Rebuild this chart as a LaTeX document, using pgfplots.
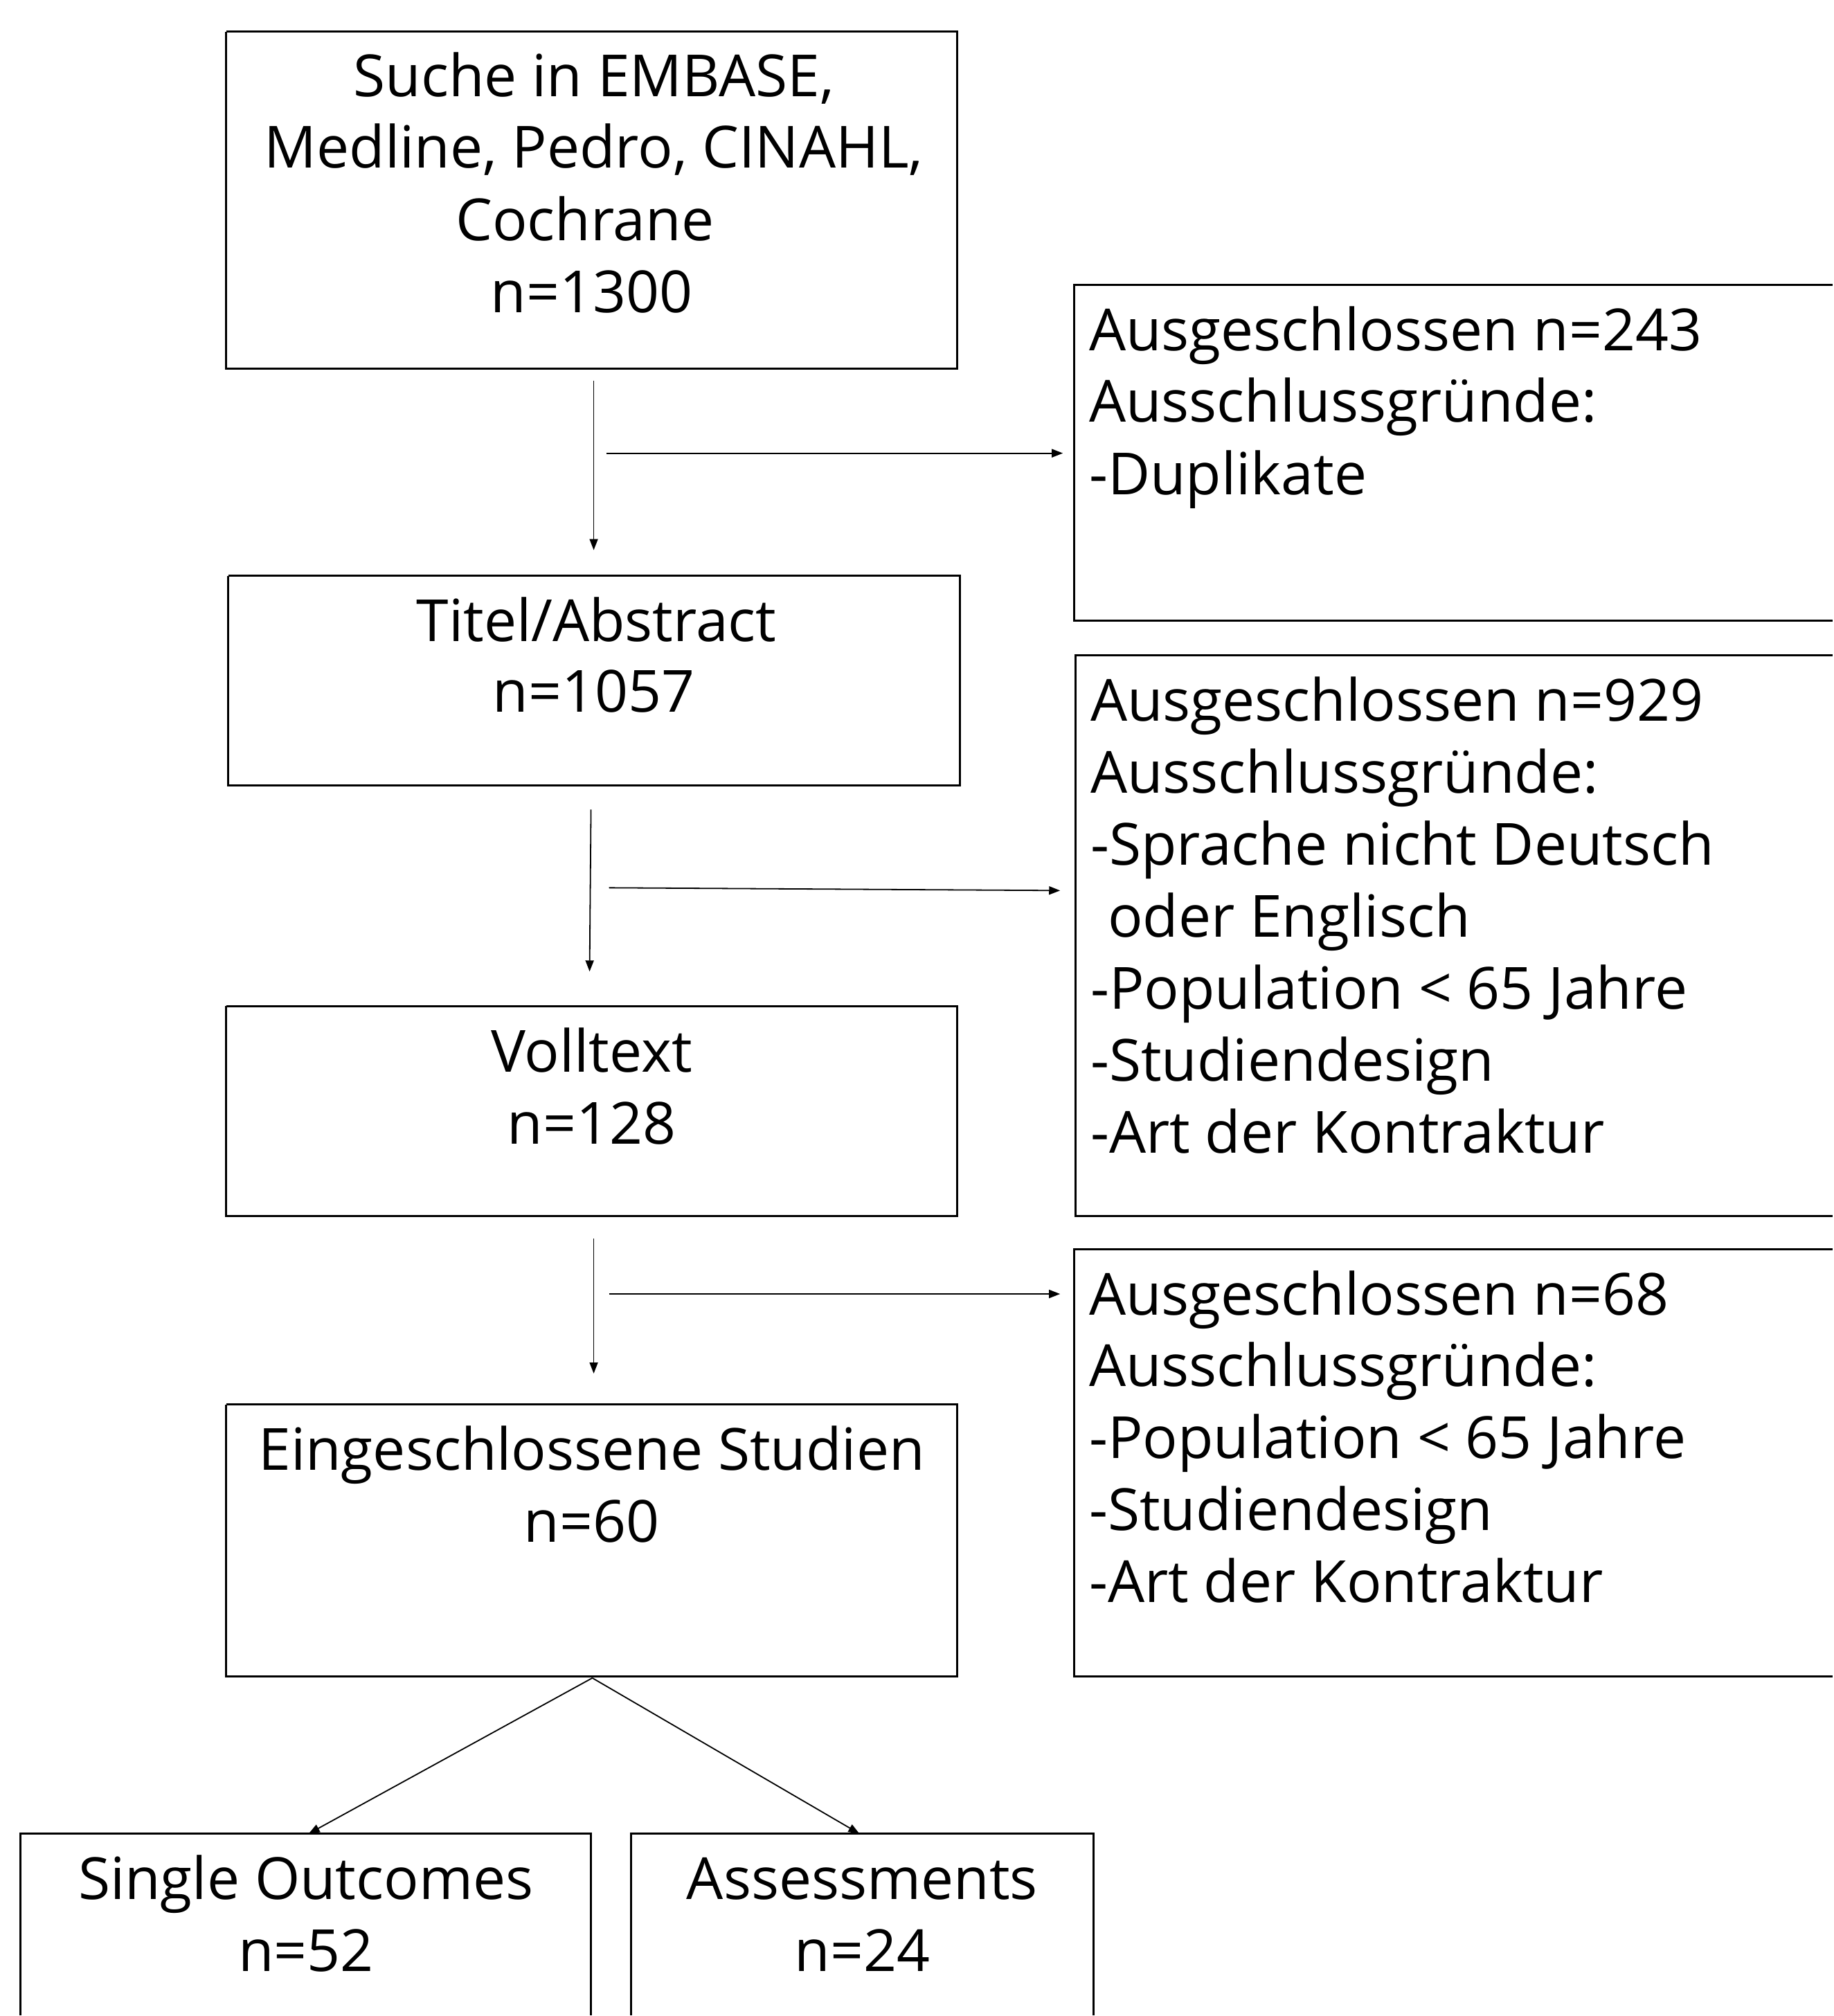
\documentclass[border=0pt]{standalone}
\usepackage{pgfplots}
\pgfplotsset{compat=1.18}
\usepackage{fontspec}
\setmainfont{Open Sans}
\usetikzlibrary{arrows.meta}
\tikzset{bx/.style={line width=0.75pt, black},
         ar/.style={line width=0.45pt, black, -{Triangle[length=4pt,width=3pt]}},
         t/.style={font=\fontsize{21}{25}\selectfont, inner sep=0pt, anchor=base},
         l/.style={font=\fontsize{21}{25}\selectfont, inner sep=0pt, anchor=base west}}
\begin{document}
\begin{tikzpicture}
\begin{axis}[
  scale only axis, width=662pt, height=728pt,
  xmin=0, xmax=2648, ymin=0, ymax=2912, y dir=reverse,
  hide axis, clip=false,
]
\addplot[draw=none] coordinates {(0,0) (2648,2912)};
% boxes
\addplot[bx] coordinates {(327,46) (1383,46) (1383,533) (327,533) (327,46)};
\addplot[bx] coordinates {(2648,412) (1552,412) (1552,897) (2648,897)};
\addplot[bx] coordinates {(330,832) (1387,832) (1387,1135) (330,1135) (330,832)};
\addplot[bx] coordinates {(2648,947) (1554,947) (1554,1757) (2648,1757)};
\addplot[bx] coordinates {(327,1454) (1383,1454) (1383,1757) (327,1757) (327,1454)};
\addplot[bx] coordinates {(2648,1805) (1552,1805) (1552,2423) (2648,2423)};
\addplot[bx] coordinates {(327,2030) (1383,2030) (1383,2423) (327,2423) (327,2030)};
\addplot[bx] coordinates {(30,2912) (30,2650) (854,2650) (854,2912)};
\addplot[bx] coordinates {(912,2912) (912,2650) (1580,2650) (1580,2912)};
% arrows
\addplot[ar] coordinates {(858,550) (858,795)};
\addplot[ar] coordinates {(876,655) (1536,655)};
\addplot[ar] coordinates {(854,1170) (852,1404)};
\addplot[ar] coordinates {(880,1283) (1532,1287)};
\addplot[ar] coordinates {(858,1790) (858,1985)};
\addplot[ar] coordinates {(880,1870) (1532,1870)};
\addplot[ar] coordinates {(856,2425) (446,2650)};
\addplot[ar] coordinates {(856,2425) (1242,2650)};
% box 1
\node[t] at (axis cs:858,140) {Suche in EMBASE,};
\node[t] at (axis cs:858,243) {Medline, Pedro, CINAHL,};
\node[t] at (axis cs:845,348) {Cochrane};
\node[t] at (axis cs:855,452) {n=1300};
% right 1
\node[l] at (axis cs:1573,507) {Ausgeschlossen n=243};
\node[l] at (axis cs:1573,610) {Ausschlussgründe:};
\node[l] at (axis cs:1573,715) {-Duplikate};
% box 2
\node[t] at (axis cs:862,927) {Titel/Abstract};
\node[t] at (axis cs:858,1029) {n=1057};
% right 2
\node[l] at (axis cs:1575,1042) {Ausgeschlossen n=929};
\node[l] at (axis cs:1575,1146) {Ausschlussgründe:};
\node[l] at (axis cs:1575,1250) {-Sprache nicht Deutsch};
\node[l] at (axis cs:1600,1354) {oder Englisch};
\node[l] at (axis cs:1575,1458) {-Population < 65 Jahre};
\node[l] at (axis cs:1575,1562) {-Studiendesign};
\node[l] at (axis cs:1575,1666) {-Art der Kontraktur};
% box 3
\node[t] at (axis cs:855,1549) {Volltext};
\node[t] at (axis cs:855,1653) {n=128};
% right 3
\node[l] at (axis cs:1573,1900) {Ausgeschlossen n=68};
\node[l] at (axis cs:1573,2004) {Ausschlussgründe:};
\node[l] at (axis cs:1573,2108) {-Population < 65 Jahre};
\node[l] at (axis cs:1573,2212) {-Studiendesign};
\node[l] at (axis cs:1573,2316) {-Art der Kontraktur};
% box 4
\node[t] at (axis cs:855,2125) {Eingeschlossene Studien};
\node[t] at (axis cs:855,2229) {n=60};
% box 5, 6
\node[t] at (axis cs:442,2745) {Single Outcomes};
\node[t] at (axis cs:442,2849) {n=52};
\node[t] at (axis cs:1246,2745) {Assessments};
\node[t] at (axis cs:1246,2849) {n=24};
\end{axis}
\end{tikzpicture}
\end{document}
